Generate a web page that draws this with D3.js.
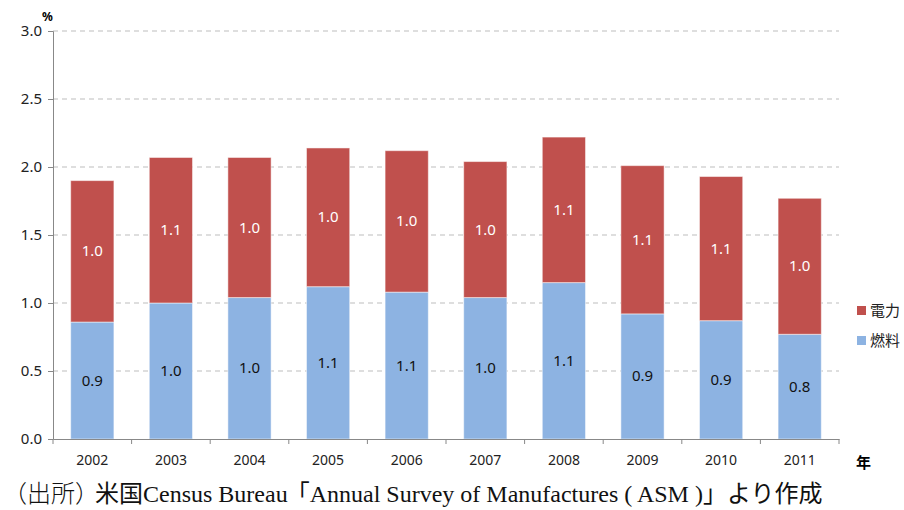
<!DOCTYPE html>
<html>
<head>
<meta charset="utf-8">
<script src="https://cdn.jsdelivr.net/npm/d3@7"></script>
<style>
  body { margin: 0; background: #fff; }
  svg text { font-family: "Noto Sans", "Noto Sans CJK JP", sans-serif; }
</style>
</head>
<body>
<div id="chart"></div>
<script>
var years = ["2002", "2003", "2004", "2005", "2006", "2007", "2008", "2009", "2010", "2011"];
var fuel = [0.86, 1.00, 1.04, 1.12, 1.08, 1.04, 1.15, 0.92, 0.87, 0.77];
var power = [1.04, 1.07, 1.03, 1.02, 1.04, 1.00, 1.07, 1.09, 1.06, 1.00];
var yTicks = [0, 0.5, 1.0, 1.5, 2.0, 2.5, 3.0];
var seriesNames = ["電力", "燃料"];

var width = 904, height = 510;
var margin = { left: 53, right: 65, top: 31, bottom: 71 };

var svg = d3.select('#chart').append('svg')
  .attr('width', width)
  .attr('height', height);

var x = d3.scaleBand().domain(years).range([margin.left, width - margin.right]).paddingInner(0.45).paddingOuter(0.225);
var y = d3.scaleLinear().domain([0, 3]).range([height - margin.bottom, margin.top]);

// grid
svg.append('g').selectAll('line').data(yTicks.slice(1)).enter().append('line')
  .attr('x1', margin.left).attr('x2', width - margin.right)
  .attr('y1', (d) => y(d)).attr('y2', (d) => y(d))
  .attr('stroke', '#bdbdbd').attr('stroke-dasharray', '5,4');

var rows = years.map((yr, i) => ({ year: yr, fuel: fuel[i], power: power[i] }));
var stack = d3.stack().keys(['fuel', 'power'])(rows);
var color = { fuel: '#8DB3E2', power: '#C0504D' };
var labelColor = { fuel: '#111', power: '#fff' };

var layers = svg.selectAll('.layer').data(stack).enter().append('g').attr('class', 'layer');
layers.selectAll('rect').data((d) => d.map((v) => ({ v: v, key: d.key }))).enter().append('rect')
  .attr('x', (d) => x(d.v.data.year))
  .attr('width', x.bandwidth())
  .attr('y', (d) => y(d.v[1]))
  .attr('height', (d) => y(d.v[0]) - y(d.v[1]))
  .attr('fill', (d) => color[d.key])
  .attr('stroke', 'rgba(255,255,255,0.5)')
  .attr('stroke-width', 1);

layers.selectAll('text').data((d) => d.map((v) => ({ v: v, key: d.key }))).enter().append('text')
  .attr('x', (d) => x(d.v.data.year) + x.bandwidth() / 2)
  .attr('y', (d) => (y(d.v[0]) + y(d.v[1])) / 2 + 5)
  .attr('text-anchor', 'middle')
  .attr('font-size', 15)
  .attr('fill', (d) => labelColor[d.key])
  .text((d) => d3.format('.1f')(d.v[1] - d.v[0]));

// y axis
var yAxis = svg.append('g')
  .attr('transform', 'translate(' + margin.left + ',0)')
  .call(d3.axisLeft(y).tickValues(yTicks).tickFormat(d3.format('.1f')).tickSize(5).tickPadding(6));
yAxis.select('.domain').attr('stroke', '#888');
yAxis.selectAll('.tick line').attr('stroke', '#888');
yAxis.selectAll('.tick text').attr('font-size', 15).attr('fill', '#222');

// x axis
var xAxis = svg.append('g')
  .attr('transform', 'translate(0,' + y(0) + ')')
  .call(d3.axisBottom(x).tickSize(0).tickPadding(16));
xAxis.select('.domain').attr('stroke', '#888');
xAxis.selectAll('.tick text').attr('font-size', 14).attr('fill', '#222');
var bounds = years.map((d) => x(d) - x.step() * x.paddingInner() / 2).concat([width - margin.right]);
bounds[0] = margin.left;
xAxis.selectAll('.bound').data(bounds).enter().append('line')
  .attr('x1', (d) => d).attr('x2', (d) => d).attr('y1', 0).attr('y2', 5)
  .attr('stroke', '#888');

svg.append('text').attr('x', 42).attr('y', 21).attr('font-size', 12).attr('font-weight', 'bold').text('%');
svg.append('text').attr('x', 856).attr('y', 468).attr('font-size', 15).attr('font-family', 'Noto Sans CJK JP').attr('font-weight', 'bold').text('年');

// legend
var legend = svg.selectAll('.legend').data(seriesNames).enter().append('g')
  .attr('transform', (d, i) => 'translate(857,' + (306 + i * 30) + ')');
legend.append('rect').attr('width', 9).attr('height', 9)
  .attr('fill', (d, i) => i === 0 ? color.power : color.fuel);
legend.append('text').attr('x', 13).attr('y', 10)
  .attr('font-size', 15).attr('font-family', 'Noto Sans CJK JP').attr('fill', '#222')
  .text((d) => d);

// source note
var note = svg.append('text').attr('x', 3).attr('y', 502)
  .attr('font-size', 24)
  .style('font-family', '"Liberation Serif", "Noto Sans CJK JP", serif')
  .attr('fill', '#111');
note.append('tspan').attr('font-weight', 300).text('（出所）');
note.append('tspan').attr('dx', -4).text('米国Census Bureau');
note.append('tspan').attr('dx', -2).text('「Annual Survey of Manufactures ( ASM )」');
note.append('tspan').attr('dx', 0).text('より作成');
</script>
</body>
</html>
